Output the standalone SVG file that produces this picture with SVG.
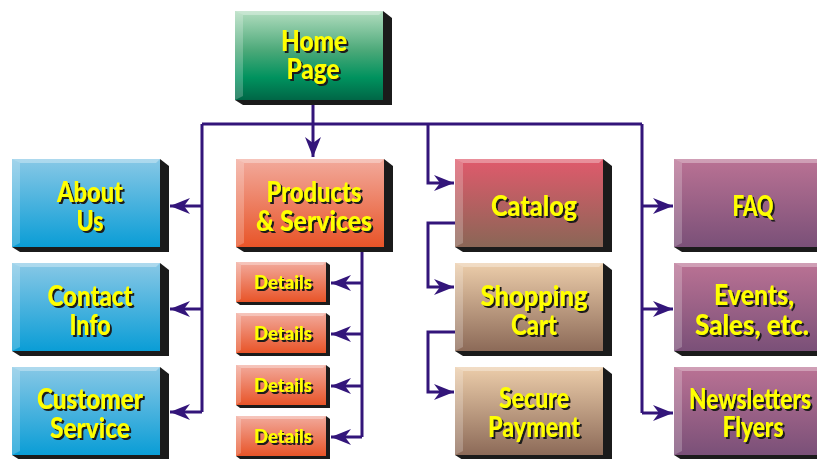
<svg xmlns="http://www.w3.org/2000/svg" width="817" height="459" viewBox="0 0 817 459">
<defs>
<linearGradient id="gGreen" x1="0" y1="0" x2="0" y2="1"><stop offset="0" stop-color="#b2ddbf"/><stop offset="0.45" stop-color="#4aa878"/><stop offset="0.75" stop-color="#00925e"/><stop offset="1" stop-color="#006646"/></linearGradient>
<linearGradient id="gBlue" x1="0" y1="0" x2="0" y2="1"><stop offset="0" stop-color="#88c8e6"/><stop offset="1" stop-color="#0a9dd6"/></linearGradient>
<linearGradient id="gRed" x1="0" y1="0" x2="0" y2="1"><stop offset="0" stop-color="#f2aa9c"/><stop offset="1" stop-color="#e85428"/></linearGradient>
<linearGradient id="gCat" x1="0" y1="0" x2="0" y2="1"><stop offset="0" stop-color="#e05a6c"/><stop offset="1" stop-color="#8a6656"/></linearGradient>
<linearGradient id="gTan" x1="0" y1="0" x2="0" y2="1"><stop offset="0" stop-color="#eccdaa"/><stop offset="1" stop-color="#8c6a58"/></linearGradient>
<linearGradient id="gPur" x1="0" y1="0" x2="0" y2="1"><stop offset="0" stop-color="#ba7294"/><stop offset="1" stop-color="#7a5078"/></linearGradient>
<filter id="sh" x="-10%" y="-20%" width="130%" height="150%"><feDropShadow dx="2" dy="2" stdDeviation="0.3" flood-color="#1a1a1a" flood-opacity="1"/></filter>
<marker id="ah" markerUnits="userSpaceOnUse" markerWidth="22" markerHeight="18" refX="20" refY="8" orient="auto" overflow="visible"><path d="M0,0 L20,8 L0,16 L6,8 z" fill="#33157a"/></marker>
<style>
.shd{fill:#1b1b1b}
.lb{fill:#ffffff;fill-opacity:0.22}
.tb{fill:#ffffff;fill-opacity:0.32}
.t{font-family:Lato,Roboto,"DejaVu Sans Condensed",sans-serif;font-weight:900;font-size:28px;fill:#ffff00;text-anchor:middle;filter:url(#sh)}
.d{font-size:19px}
.c{fill:none;stroke:#33157a;stroke-width:3}
</style>
</defs>

<g id="connectors">
<path class="c" d="M313,105 V157" marker-end="url(#ah)"/>
<path class="c" d="M202,124 H642"/>
<path class="c" d="M202,124 V412"/>
<path class="c" d="M202,206 H170" marker-end="url(#ah)"/>
<path class="c" d="M202,309 H170" marker-end="url(#ah)"/>
<path class="c" d="M202,412 H170" marker-end="url(#ah)"/>
<path class="c" d="M362,252 V437"/>
<path class="c" d="M362,283 H331" marker-end="url(#ah)"/>
<path class="c" d="M362,334 H331" marker-end="url(#ah)"/>
<path class="c" d="M362,386 H331" marker-end="url(#ah)"/>
<path class="c" d="M362,437 H331" marker-end="url(#ah)"/>
<path class="c" d="M428,124 V183 H454" marker-end="url(#ah)"/>
<path class="c" d="M456,223 H428 V287 H454" marker-end="url(#ah)"/>
<path class="c" d="M458,332 H428 V392 H454" marker-end="url(#ah)"/>
<path class="c" d="M642,124 V413"/>
<path class="c" d="M642,206 H673" marker-end="url(#ah)"/>
<path class="c" d="M642,309 H673" marker-end="url(#ah)"/>
<path class="c" d="M642,413 H673" marker-end="url(#ah)"/>
</g>

<g id="home" transform="translate(235,11)">
<polygon class="shd" points="148,0 157,7 157,94 8,94 0,89"/>
<rect x="0" y="0" width="148" height="89" fill="url(#gGreen)"/>
<polygon class="lb" points="0,0 8,4 8,85 0,89"/>
<polygon class="tb" points="0,0 148,0 144,4 8,4"/>
<text class="t" x="79" y="40" textLength="66" lengthAdjust="spacingAndGlyphs">Home</text>
<text class="t" x="78" y="68" textLength="53" lengthAdjust="spacingAndGlyphs">Page</text>
</g>

<g id="about" transform="translate(12,159)">
<polygon class="shd" points="148,0 157,7 157,93 8,93 0,88"/>
<rect x="0" y="0" width="148" height="88" fill="url(#gBlue)"/>
<polygon class="lb" points="0,0 8,4 8,84 0,88"/>
<polygon class="tb" points="0,0 148,0 144,4 8,4"/>
<text class="t" x="78" y="43" textLength="66" lengthAdjust="spacingAndGlyphs">About</text>
<text class="t" x="78" y="72" textLength="27" lengthAdjust="spacingAndGlyphs">Us</text>
</g>

<g id="contact" transform="translate(12,263)">
<polygon class="shd" points="148,0 157,7 157,93 8,93 0,88"/>
<rect x="0" y="0" width="148" height="88" fill="url(#gBlue)"/>
<polygon class="lb" points="0,0 8,4 8,84 0,88"/>
<polygon class="tb" points="0,0 148,0 144,4 8,4"/>
<text class="t" x="78" y="43" textLength="85" lengthAdjust="spacingAndGlyphs">Contact</text>
<text class="t" x="78" y="72" textLength="41" lengthAdjust="spacingAndGlyphs">Info</text>
</g>

<g id="customer" transform="translate(12,367)">
<polygon class="shd" points="148,0 157,7 157,93 8,93 0,88"/>
<rect x="0" y="0" width="148" height="88" fill="url(#gBlue)"/>
<polygon class="lb" points="0,0 8,4 8,84 0,88"/>
<polygon class="tb" points="0,0 148,0 144,4 8,4"/>
<text class="t" x="78" y="42" textLength="106" lengthAdjust="spacingAndGlyphs">Customer</text>
<text class="t" x="78" y="71" textLength="80" lengthAdjust="spacingAndGlyphs">Service</text>
</g>

<g id="products" transform="translate(236,159)">
<polygon class="shd" points="148,0 157,7 157,93 8,93 0,88"/>
<rect x="0" y="0" width="148" height="88" fill="url(#gRed)"/>
<polygon class="lb" points="0,0 8,4 8,84 0,88"/>
<polygon class="tb" points="0,0 148,0 144,4 8,4"/>
<text class="t" x="78" y="43" textLength="95" lengthAdjust="spacingAndGlyphs">Products</text>
<text class="t" x="78" y="72" textLength="116" lengthAdjust="spacingAndGlyphs">&amp; Services</text>
</g>

<g id="details1" transform="translate(236,262)">
<polygon class="shd" points="90,0 94,3 94,43 4,43 0,40"/>
<rect x="0" y="0" width="90" height="40" fill="url(#gRed)"/>
<polygon class="lb" points="0,0 5,3 5,37 0,40"/>
<polygon class="tb" points="0,0 90,0 87,3 5,3"/>
<text class="t d" x="47" y="27" textLength="58" lengthAdjust="spacingAndGlyphs">Details</text>
</g>
<g id="details2" transform="translate(236,313)">
<polygon class="shd" points="90,0 94,3 94,43 4,43 0,40"/>
<rect x="0" y="0" width="90" height="40" fill="url(#gRed)"/>
<polygon class="lb" points="0,0 5,3 5,37 0,40"/>
<polygon class="tb" points="0,0 90,0 87,3 5,3"/>
<text class="t d" x="47" y="27" textLength="58" lengthAdjust="spacingAndGlyphs">Details</text>
</g>
<g id="details3" transform="translate(236,365)">
<polygon class="shd" points="90,0 94,3 94,43 4,43 0,40"/>
<rect x="0" y="0" width="90" height="40" fill="url(#gRed)"/>
<polygon class="lb" points="0,0 5,3 5,37 0,40"/>
<polygon class="tb" points="0,0 90,0 87,3 5,3"/>
<text class="t d" x="47" y="27" textLength="58" lengthAdjust="spacingAndGlyphs">Details</text>
</g>
<g id="details4" transform="translate(236,416)">
<polygon class="shd" points="90,0 94,3 94,43 4,43 0,40"/>
<rect x="0" y="0" width="90" height="40" fill="url(#gRed)"/>
<polygon class="lb" points="0,0 5,3 5,37 0,40"/>
<polygon class="tb" points="0,0 90,0 87,3 5,3"/>
<text class="t d" x="47" y="27" textLength="58" lengthAdjust="spacingAndGlyphs">Details</text>
</g>

<g id="catalog" transform="translate(455,159)">
<polygon class="shd" points="148,0 157,7 157,93 8,93 0,88"/>
<rect x="0" y="0" width="148" height="88" fill="url(#gCat)"/>
<polygon class="lb" points="0,0 8,4 8,84 0,88"/>
<polygon class="tb" points="0,0 148,0 144,4 8,4"/>
<text class="t" x="79" y="57" textLength="86" lengthAdjust="spacingAndGlyphs">Catalog</text>
</g>

<g id="cart" transform="translate(455,263)">
<polygon class="shd" points="148,0 157,7 157,93 8,93 0,88"/>
<rect x="0" y="0" width="148" height="88" fill="url(#gTan)"/>
<polygon class="lb" points="0,0 8,4 8,84 0,88"/>
<polygon class="tb" points="0,0 148,0 144,4 8,4"/>
<text class="t" x="79" y="43" textLength="107" lengthAdjust="spacingAndGlyphs">Shopping</text>
<text class="t" x="79" y="72" textLength="46" lengthAdjust="spacingAndGlyphs">Cart</text>
</g>

<g id="payment" transform="translate(455,367)">
<polygon class="shd" points="148,0 157,7 157,93 8,93 0,88"/>
<rect x="0" y="0" width="148" height="88" fill="url(#gTan)"/>
<polygon class="lb" points="0,0 8,4 8,84 0,88"/>
<polygon class="tb" points="0,0 148,0 144,4 8,4"/>
<text class="t" x="79" y="41" textLength="70" lengthAdjust="spacingAndGlyphs">Secure</text>
<text class="t" x="79" y="70" textLength="92" lengthAdjust="spacingAndGlyphs">Payment</text>
</g>

<g id="faq" transform="translate(674,159)">
<polygon class="shd" points="148,0 157,7 157,93 8,93 0,88"/>
<rect x="0" y="0" width="148" height="88" fill="url(#gPur)"/>
<polygon class="lb" points="0,0 8,4 8,84 0,88"/>
<polygon class="tb" points="0,0 148,0 144,4 8,4"/>
<text class="t" x="79" y="57" textLength="41" lengthAdjust="spacingAndGlyphs">FAQ</text>
</g>

<g id="events" transform="translate(674,263)">
<polygon class="shd" points="148,0 157,7 157,93 8,93 0,88"/>
<rect x="0" y="0" width="148" height="88" fill="url(#gPur)"/>
<polygon class="lb" points="0,0 8,4 8,84 0,88"/>
<polygon class="tb" points="0,0 148,0 144,4 8,4"/>
<text class="t" x="80" y="42" textLength="80" lengthAdjust="spacingAndGlyphs">Events,</text>
<text class="t" x="78" y="72" textLength="114" lengthAdjust="spacingAndGlyphs">Sales, etc.</text>
</g>

<g id="newsletters" transform="translate(674,367)">
<polygon class="shd" points="148,0 157,7 157,93 8,93 0,88"/>
<rect x="0" y="0" width="148" height="88" fill="url(#gPur)"/>
<polygon class="lb" points="0,0 8,4 8,84 0,88"/>
<polygon class="tb" points="0,0 148,0 144,4 8,4"/>
<text class="t" x="76" y="42" textLength="122" lengthAdjust="spacingAndGlyphs">Newsletters</text>
<text class="t" x="79" y="70" textLength="61" lengthAdjust="spacingAndGlyphs">Flyers</text>
</g>
</svg>
